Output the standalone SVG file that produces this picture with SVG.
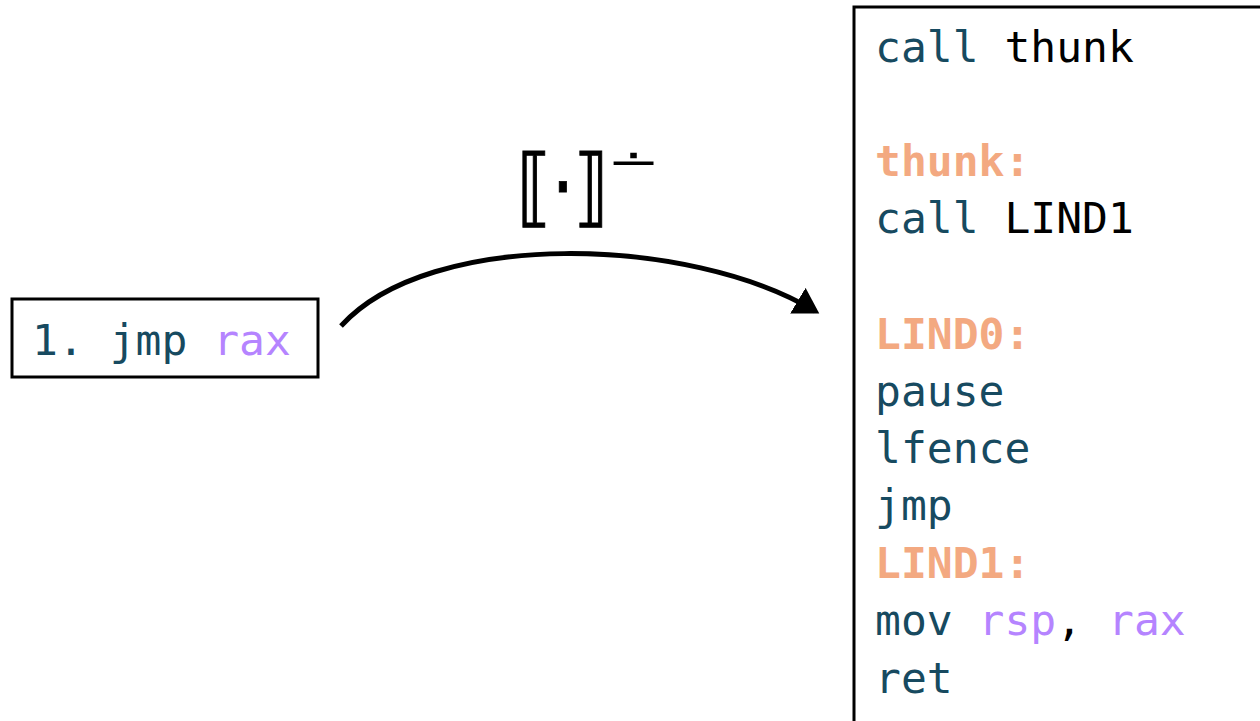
<svg xmlns="http://www.w3.org/2000/svg" width="1260" height="721" viewBox="0 0 1260 721">
  <style>
    .code { font-family: "DejaVu Sans Mono", "Liberation Mono", monospace; font-size: 43px; fill: #174a60; }
    .lbl { fill: #f3a981; font-weight: bold; }
    .reg { fill: #b584ff; }
    .plain { fill: #000000; }
    .box { fill: #ffffff; stroke: #000000; stroke-width: 3; }
    .math { font-family: "DejaVu Sans", "Noto Sans", sans-serif; fill: #000000; }
  </style>
  <defs>
    <marker id="arrowhead" markerWidth="6" markerHeight="6" refX="4" refY="3" orient="auto" markerUnits="strokeWidth">
      <path d="M0,0 L5,3 L0,6 Z" fill="#000000"/>
    </marker>
  </defs>
  <rect width="1260" height="721" fill="#ffffff"/>

  <g id="source">
    <rect class="box" x="12" y="299" width="306" height="78"/>
    <text class="code" x="32" y="355">1. jmp <tspan class="reg">rax</tspan></text>
  </g>

  <g id="connectors">
    <path d="M341,326 C430,228 690,236 815,311" fill="none" stroke="#000000" stroke-width="5" marker-end="url(#arrowhead)"/>
  </g>

  <g id="transform-label">
    <text class="math" font-size="70" stroke="#000000" stroke-width="0.8" transform="translate(517,216) scale(1,1.22)">⟦·⟧</text>
    <text class="math" font-size="44" transform="translate(607,177) scale(1.45,1)">∸</text>
  </g>

  <g id="target">
    <rect class="box" x="854" y="7" width="420" height="730"/>
    <text class="code" x="875" y="62">call <tspan class="plain">thunk</tspan></text>
    <text class="code lbl" x="875" y="176">thunk:</text>
    <text class="code" x="875" y="233">call <tspan class="plain">LIND1</tspan></text>
    <text class="code lbl" x="875" y="349">LIND0:</text>
    <text class="code" x="875" y="406">pause</text>
    <text class="code" x="875" y="463">lfence</text>
    <text class="code" x="875" y="520">jmp</text>
    <text class="code lbl" x="875" y="578">LIND1:</text>
    <text class="code" x="875" y="635">mov <tspan class="reg">rsp</tspan><tspan class="plain">,</tspan> <tspan class="reg">rax</tspan></text>
    <text class="code" x="875" y="693">ret</text>
  </g>
</svg>
